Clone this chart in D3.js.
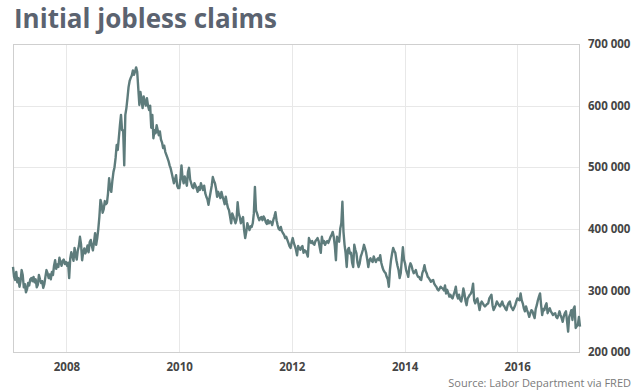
<!DOCTYPE html>
<html><head><meta charset="utf-8">
<script src="https://cdn.jsdelivr.net/npm/d3@7"></script>
<style>
html,body{margin:0;padding:0;background:#fff;}
svg{display:block;}
</style></head>
<body>
<svg id="chart" width="640" height="390"></svg>
<script>
// Weekly initial jobless claims (thousands), week ending Saturdays from 2007-01-20
const claims2007 = [338,322,317,330,313,320,306,315,333,325,305,310,297,302,312,308,318,320,315,322,313,318,305,309,325,318,312,315,304,310,322,333,328,320,326,318,330,325,340,349,335,342,338,353,345,340,348,350,343,346];
const claims2008 = [340,345,320,352,362,355,348,369,358,350,365,372,387,375,349,362,368,360,365,373,362,378,382,372,365,378,393,374,385,400,420,447,440,426,432,445,440,442,458,482,465,460,478,492,500,515,536,528,548,568,585,560];
const claims2009 = [560,503,585,596,612,630,640,645,649,657,650,655,662,655,628,601,622,610,596,615,605,600,612,600,593,600,564,585,547,560,555,568,560,552,558,545,540,531,535,525,520,515,510,503,498,490,482,474,480,487,470,466];
const claims2010 = [466,480,503,482,474,485,478,470,492,499,480,474,468,466,474,470,466,460,468,463,474,468,463,470,458,452,448,439,450,460,470,484,478,474,465,452,460,455,450,460,452,447,440,452,442,434,430,420,409,425,420,415];
const claims2011 = [409,415,443,425,419,409,415,419,398,385,395,409,403,398,404,403,409,425,468,430,425,419,414,418,419,414,420,417,411,408,414,409,412,411,406,414,420,427,414,406,400,398,403,396,393,390,385,387,382,377,372,369,378];
const claims2012 = [385,377,372,366,357,372,368,366,370,372,361,365,364,360,355,385,380,377,380,376,374,380,382,385,380,370,361,387,377,380,374,378,380,377,382,387,390,395,387,372,349,387,382,379,400,409,444,395,374,360,338,366];
const claims2013 = [369,360,361,345,338,374,366,360,345,338,344,355,360,366,374,368,361,350,338,349,352,348,346,355,350,346,350,352,349,357,345,338,333,330,328,322,318,306,333,349,360,369,364,361,349,340,333,320,328,349,370,350];
const claims2014 = [344,333,328,322,338,344,340,333,328,330,333,326,322,322,318,317,328,333,341,332,328,322,320,317,314,316,317,311,308,306,302,300,303,306,304,303,300,308,295,301,296,290,293,289,287,293,298,306,292,287,293,285];
const claims2015 = [282,290,303,295,283,276,287,290,293,295,300,311,284,279,284,287,278,268,278,282,279,276,274,276,278,279,287,290,293,276,268,272,276,282,279,276,274,278,282,276,274,270,268,276,280,282,274,271,268,272,276,282];
const claims2016 = [287,285,284,295,284,279,271,266,274,268,263,257,263,268,266,260,255,270,276,284,290,295,276,260,270,268,275,279,263,268,271,266,263,260,262,263,257,255,260,266,260,255,249,258,263,266,250,233,257,262,268,252,270];
const claims2017 = [274,239,242,244,257,241];

const firstWeek = "2007-01-20";
const yTicks = [200000,300000,400000,500000,600000,700000];
const xTickYears = [2008,2010,2012,2014,2016];
const title = "Initial jobless claims";
const source = "Source: Labor Department via FRED";

const values = [].concat(claims2007,claims2008,claims2009,claims2010,claims2011,claims2012,claims2013,claims2014,claims2015,claims2016,claims2017);
const start = d3.timeParse("%Y-%m-%d")(firstWeek);
const data = values.map((v,i)=>({date: d3.timeDay.offset(start, 7*i), value: v*1000}));

const svg = d3.select("#chart");
const L = 13, R = 580, T = 44, B = 352;

const x = d3.scaleTime().domain(d3.extent(data, d=>d.date)).range([L, R]);
const y = d3.scaleLinear().domain([200000, 700000]).range([B, T]);

// gridlines
svg.append("g").selectAll("line").data(yTicks).join("line")
  .attr("x1", L).attr("x2", R)
  .attr("y1", d=>Math.round(y(d))+0.5).attr("y2", d=>Math.round(y(d))+0.5)
  .attr("stroke", "#e8e8e8").attr("stroke-width", 1);
const xTickDates = xTickYears.map(yr=>new Date(yr,0,1));
svg.append("g").selectAll("line").data(xTickDates).join("line")
  .attr("x1", d=>Math.round(x(d))+0.5).attr("x2", d=>Math.round(x(d))+0.5)
  .attr("y1", T).attr("y2", B)
  .attr("stroke", "#e8e8e8").attr("stroke-width", 1);

// frame
svg.append("rect").attr("x", L+0.5).attr("y", T+0.5).attr("width", R-L-1).attr("height", B-T)
  .attr("fill", "none").attr("stroke", "#cfcfcf").attr("stroke-width", 1);

// line
const line = d3.line().x(d=>x(d.date)).y(d=>y(d.value)).curve(d3.curveLinear);
svg.append("path").datum(data).attr("d", line)
  .attr("fill", "none").attr("stroke", "#5e7c7c").attr("stroke-width", 2.4)
  .attr("stroke-linejoin", "round");

// y axis (right)
const fmt = v => d3.format(",")(v).replace(/,/g, " ");
const yAxis = d3.axisRight(y).tickValues(yTicks).tickSize(0).tickPadding(0).tickFormat(fmt);
const gy = svg.append("g").attr("transform", `translate(588,0)`).call(yAxis);
gy.select(".domain").remove();
gy.selectAll("text").attr("font-family", "'Open Sans', sans-serif").attr("font-weight", 700)
  .attr("font-size", "11.5px").attr("fill", "#454545").attr("dy", "0.32em");

// x axis
const xAxis = d3.axisBottom(x).tickValues(xTickDates).tickSize(0).tickPadding(0).tickFormat(d3.timeFormat("%Y"));
const gx = svg.append("g").attr("transform", `translate(0,${B})`).call(xAxis);
gx.select(".domain").remove();
gx.selectAll("text").attr("font-family", "'Open Sans', sans-serif").attr("font-weight", 700)
  .attr("font-size", "11.5px").attr("fill", "#454545").attr("y", 19).attr("dy", "0");

// title
svg.append("text").attr("x", 14).attr("y", 27.5).text(title)
  .attr("font-family", "'Open Sans', sans-serif").attr("font-weight", 700)
  .attr("font-size", "26px").attr("fill", "#5b6370");

// source
svg.append("text").attr("x", 631).attr("y", 386.5).attr("text-anchor", "end").text(source)
  .attr("font-family", "'Open Sans', sans-serif").attr("font-size", "11px").attr("fill", "#7a7a7a");
</script>
</body></html>
